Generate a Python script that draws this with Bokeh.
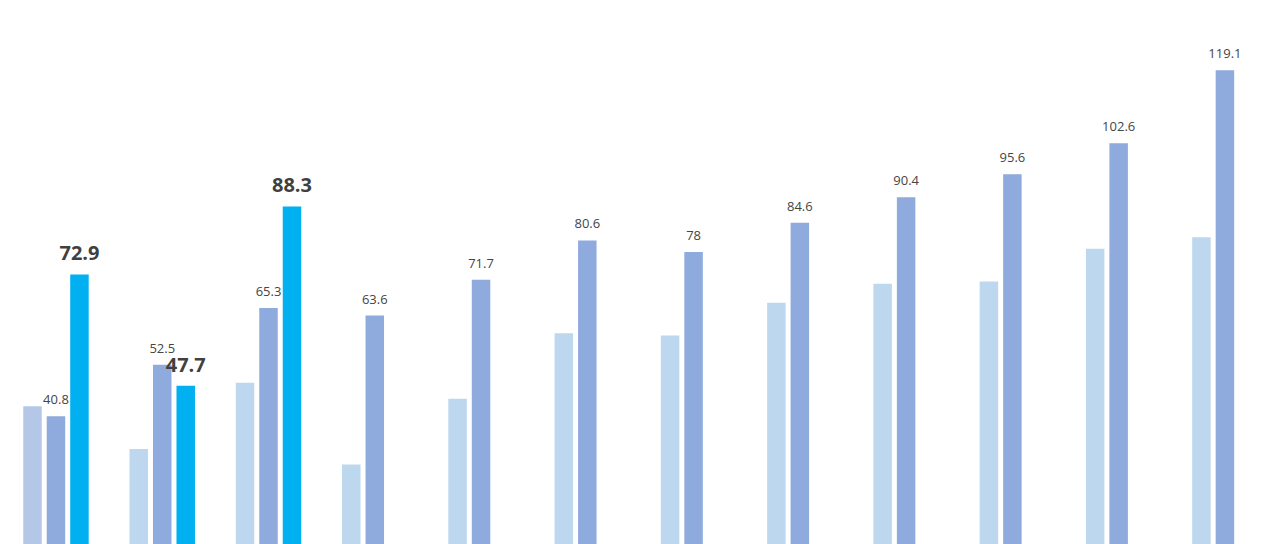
from bokeh.plotting import figure
from bokeh.models import ColumnDataSource, Range1d
from bokeh.core.properties import value
from bokeh.embed import file_html
from bokeh.resources import INLINE

# ---- data ----
groups = list(range(12))
light_vals = [43.1, 33.4, 48.4, 29.9, 44.8, 59.6, 59.1, 66.5, 70.8, 71.3, 78.7, 81.3]
light_colors = ["#b4c7e7"] + ["#bdd7ee"] * 11
mid_vals = [40.8, 52.5, 65.3, 63.6, 71.7, 80.6, 78, 84.6, 90.4, 95.6, 102.6, 119.1]
mid_labels = ["40.8", "52.5", "65.3", "63.6", "71.7", "80.6", "78", "84.6", "90.4", "95.6", "102.6", "119.1"]
hi_groups = [0, 1, 2]
hi_vals = [72.9, 47.7, 88.3]
hi_labels = ["72.9", "47.7", "88.3"]

Y0 = 11.8
OFF = 0.221
W = 0.174

p = figure(width=1280, height=544, output_backend="svg", toolbar_location=None,
           x_range=Range1d(-0.522, 11.523), y_range=Range1d(Y0, Y0 + 123.1),
           min_border=0, min_border_left=0, min_border_right=0,
           min_border_top=0, min_border_bottom=0)
p.axis.visible = False
p.grid.visible = False
p.outline_line_color = None
p.background_fill_color = "white"
p.border_fill_color = "white"

src_l = ColumnDataSource(dict(x=[g - OFF for g in groups], top=light_vals, c=light_colors))
src_m = ColumnDataSource(dict(x=groups, top=mid_vals, lab=mid_labels))
src_h = ColumnDataSource(dict(x=[g + OFF for g in hi_groups], top=hi_vals, lab=hi_labels))

p.vbar(x="x", top="top", bottom=0, width=W, fill_color="c", line_color=None, source=src_l)
p.vbar(x="x", top="top", bottom=0, width=W, fill_color="#8faadc", line_color=None, source=src_m)
p.vbar(x="x", top="top", bottom=0, width=W, fill_color="#00b0f0", line_color=None, source=src_h)

p.text(x="x", y="top", text="lab", source=src_m, text_align="center",
       text_baseline="bottom", y_offset=-12, text_font=value("Open Sans"),
       text_font_size="13px", text_color="#454545")
p.text(x="x", y="top", text="lab", source=src_h, text_align="center",
       text_baseline="bottom", y_offset=-14, text_font=value("Open Sans"),
       text_font_size="20px", text_font_style="bold", text_color="#404040")

html = file_html(p, INLINE)
html = html.replace("<body>", "<body style=\"margin:0\">", 1)
open("out.html", "w").write(html)
